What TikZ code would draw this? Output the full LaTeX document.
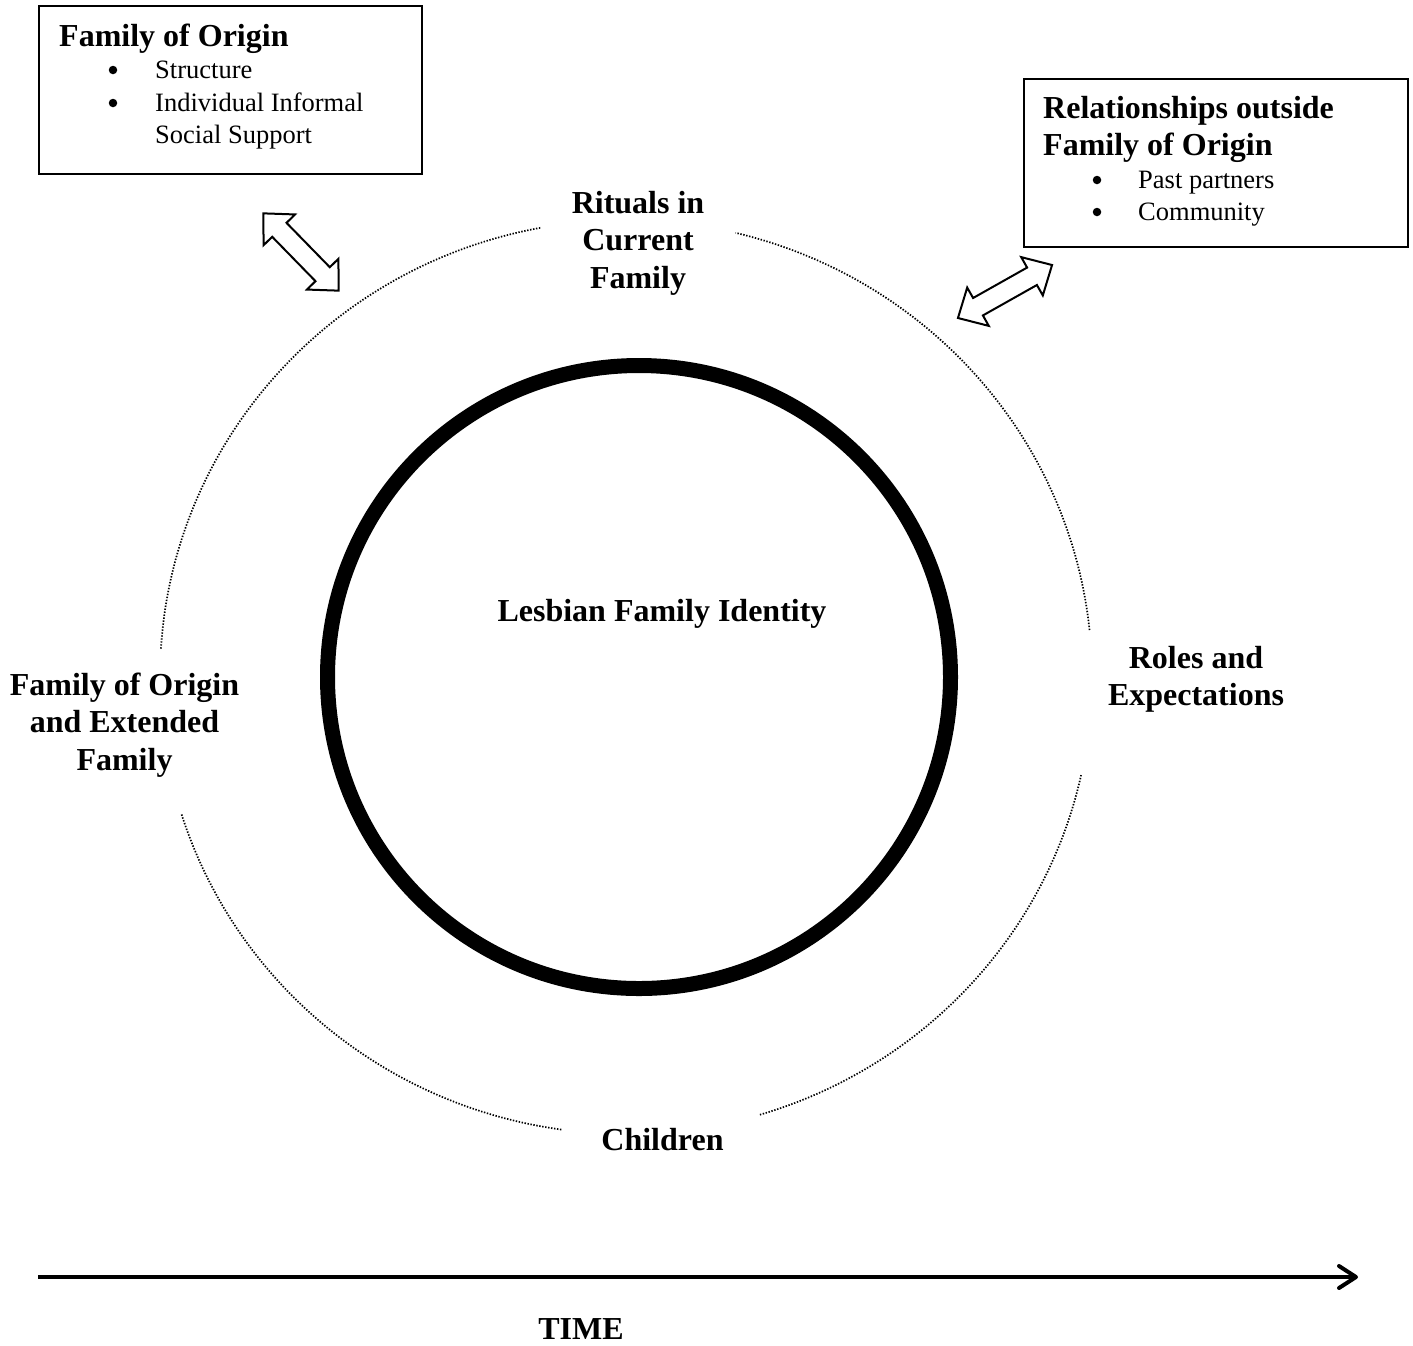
\documentclass[tikz,border=0pt]{standalone}
\usepackage{fontspec}
\setmainfont{Liberation Serif}
\usetikzlibrary{arrows.meta}

\tikzset{
  heading/.style={font=\fontsize{32}{37.5}\selectfont\bfseries, inner sep=0pt},
  body/.style={font=\fontsize{26.5}{32.5}\selectfont, inner sep=0pt},
  bulletdot/.style={circle, fill, inner sep=0pt, minimum size=8.5pt},
  frame/.style={draw, line width=2pt, rectangle, inner sep=0pt, anchor=north west},
  dotline/.style={line width=1.7pt, dash pattern=on 1.4pt off 1.6pt},
  ring/.style={circle, draw, line width=15pt, inner sep=0pt},
  timeline/.style={line width=4pt, -{Straight Barb[length=17pt, width=22pt, round]}},
  dblarrow/.pic={
    \draw[line width=2pt, line join=miter, fill=white]
      (-54,0) -- (-31,22) -- (-31,10) -- (31,10) -- (31,22) -- (54,0)
      -- (31,-22) -- (31,-10) -- (-31,-10) -- (-31,-22) -- cycle;
  }
}

\begin{document}
\begin{tikzpicture}[x=1pt, y=1pt]
\useasboundingbox (0,0) rectangle (1413,-1345);

% outer dotted ring, broken where the four labels sit
\coordinate (oc) at (626,-677);
\draw[dotline] (oc) ++(100.6:466 and 457)
  arc[start angle=100.6, end angle=176.6, x radius=466, y radius=457];
\draw[dotline] (oc) ++(197.5:466 and 457)
  arc[start angle=197.5, end angle=262.2, x radius=466, y radius=457];
\draw[dotline] (oc) ++(286.7:466 and 457)
  arc[start angle=286.7, end angle=347.6, x radius=466, y radius=457];
\draw[dotline] (oc) ++(5.9:466 and 457)
  arc[start angle=5.9, end angle=76.4, x radius=466, y radius=457];

% inner ring
\node[ring, minimum size=623pt] (core) at (639,-677) {};
\node[heading, anchor=base] (identity) at (662,-621) {Lesbian Family Identity};

% ring labels
\node[heading, align=center, anchor=north] (rituals) at (638,-187)
  {\rule{0pt}{26pt}Rituals in\\Current\\Family};
\node[heading, align=center, anchor=north] (roles) at (1196,-642)
  {\rule{0pt}{26pt}Roles and\\Expectations};
\node[heading, align=center, anchor=north] (origin) at (124.5,-669)
  {\rule{0pt}{26pt}Family of Origin\\and Extended\\Family};
\node[heading, anchor=base] (children) at (662.5,-1150) {Children};

% family of origin box
\node[frame, minimum width=383pt, minimum height=168pt] (boxA) at (38,-5) {};
\node[heading, anchor=base west] (boxAtitle) at (59,-46) {Family of Origin};
\node[bulletdot] (bA1) at (113,-70) {};
\node[body, anchor=base west] (tA1) at (155,-78) {Structure};
\node[bulletdot] (bA2) at (113,-103) {};
\node[body, align=left, anchor=north west] (tA2) at (155,-89)
  {\rule{0pt}{22pt}Individual Informal\\Social Support};

% relationships box
\node[frame, minimum width=384pt, minimum height=168pt] (boxB) at (1023,-78) {};
\node[heading, align=left, anchor=north west] (boxBtitle) at (1043,-92)
  {\rule{0pt}{26pt}Relationships outside\\Family of Origin};
\node[bulletdot] (bB1) at (1097,-180) {};
\node[body, anchor=base west] (tB1) at (1138,-188) {Past partners};
\node[bulletdot] (bB2) at (1097,-212) {};
\node[body, anchor=base west] (tB2) at (1138,-220) {Community};

% two-way influence arrows
\pic[rotate=-45.7] at (301,-252) {dblarrow};
\pic[rotate=29.4] at (1005,-291.5) {dblarrow};

% time axis
\coordinate (tstart) at (38,-1277);
\coordinate (tend) at (1358,-1277);
\draw[timeline] (tstart) -- (tend);
\node[heading, anchor=base] (time) at (581,-1339) {TIME};
\end{tikzpicture}
\end{document}
